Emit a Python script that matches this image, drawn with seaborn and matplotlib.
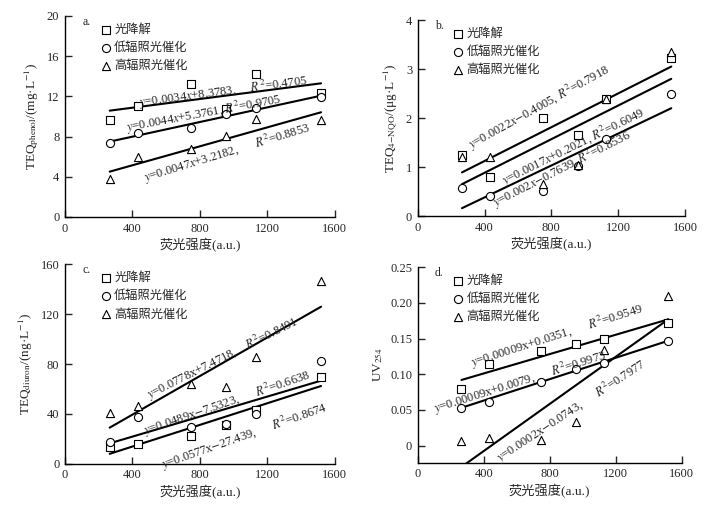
import matplotlib
matplotlib.use("Agg")
import matplotlib.pyplot as plt
import seaborn as sns

# fluorescence intensity of the six samples (shared by all panels)
fluor = [265, 432, 750, 957, 1130, 1518]
series_names = ["光降解", "低辐照光催化", "高辐照光催化"]

# a. TEQ phenol (mg/L)
phenol_photo = [9.65, 11.08, 13.2, 10.75, 14.23, 12.3]
phenol_low = [7.4, 8.39, 8.89, 10.22, 10.88, 11.91]
phenol_high = [3.78, 6.0, 6.77, 8.06, 9.75, 9.65]
phenol_fit = [[10.58, 13.3], [7.5, 12.07], [4.51, 10.42]]
phenol_eq = [
    r"$y$=0.0034$x$+8.3783,     $R^2$=0.4705",
    r"$y$=0.0044$x$+5.3761, $R^2$=0.9705",
    r"$y$=0.0047$x$+3.2182,      $R^2$=0.8853",
]

# b. TEQ 4-NQO (ug/L)
nqo_photo = [1.245, 0.80, 2.01, 1.65, 2.39, 3.22]
nqo_low = [0.565, 0.41, 0.51, 1.03, 1.57, 2.50]
nqo_high = [1.20, 1.21, 0.65, 1.05, 2.39, 3.35]
nqo_fit = [[0.89, 3.05], [0.65, 2.80], [0.16, 2.20]]
nqo_eq = [
    r"$y$=0.0022$x$$-$0.4005, $R^2$=0.7918",
    r"$y$=0.0017$x$+0.2021, $R^2$=0.6049",
    r"$y$=0.002$x$$-$0.7639, $R^2$=0.8536",
]

# c. TEQ diuron (ng/L)
diuron_photo = [13.7, 15.6, 22.5, 31.0, 43.2, 69.4]
diuron_low = [17.7, 37.3, 29.3, 32.0, 39.9, 82.7]
diuron_high = [41.0, 46.4, 63.8, 61.8, 85.4, 146.8]
diuron_fit = [[8.0, 62.4], [16.4, 66.7], [29.0, 126.0]]
diuron_eq = [
    r"$y$=0.0577x$-$27.439,      $R^2$=0.8674",
    r"$y$=0.0489x$-$7.5323,      $R^2$=0.6638",
    r"$y$=0.0778x+7.4718,    $R^2$=0.8491",
]

# d. UV254
uv_photo = [0.079, 0.114, 0.132, 0.1425, 0.1495, 0.1724]
uv_low = [0.053, 0.061, 0.089, 0.1075, 0.116, 0.146]
uv_high = [0.0066, 0.0103, 0.008, 0.0328, 0.134, 0.21]
uv_fit = [[0.092, 0.177], [0.053, 0.147], [-0.030, 0.177]]
uv_eq = [
    r"$y$=0.00009x+0.0351,      $R^2$=0.9549",
    r"$y$=0.00009x+0.0079,      $R^2$=0.9973",
    r"$y$=0.0002x$-$0.0743,      $R^2$=0.7977",
]

fit_x = [fluor[0], fluor[-1]]

sns.set_style("ticks")
plt.rcParams["font.family"] = ["Liberation Serif", "Noto Sans CJK SC"]
plt.rcParams["mathtext.fontset"] = "stix"
plt.rcParams["axes.unicode_minus"] = True

fig = plt.figure(figsize=(7.11, 5.09), dpi=100)

panels = [
    dict(pos=[0.0914, 0.5737, 0.3796, 0.3949], letter="a.",
         data=[phenol_photo, phenol_low, phenol_high], fit=phenol_fit,
         ylim=(0, 20), yticks=[0, 4, 8, 12, 16, 20],
         ylabel=r"TEQ$_{\rm phenol}$/(mg·L$^{-1}$)",
         eq=phenol_eq,
         eq_pos=[(936, 12.44, 7.5), (824, 10.25, 10.5), (960, 6.37, 17.0)]),
    dict(pos=[0.5875, 0.5756, 0.3759, 0.3851], letter="b.",
         data=[nqo_photo, nqo_low, nqo_high], fit=nqo_fit,
         ylim=(0, 4), yticks=[0, 1, 2, 3, 4],
         ylabel=r"TEQ$_{\rm 4{-}NQO}$/(μg·L$^{-1}$)",
         eq=nqo_eq,
         eq_pos=[(728, 2.22, 29.0), (936, 1.40, 26.3), (862, 0.95, 27.0)]),
    dict(pos=[0.0914, 0.0888, 0.3796, 0.3919], letter="c.",
         data=[diuron_photo, diuron_low, diuron_high], fit=diuron_fit,
         ylim=(0, 160), yticks=[0, 40, 80, 120, 160],
         ylabel=r"TEQ$_{\rm diuron}$/(ng·L$^{-1}$)",
         eq=diuron_eq,
         eq_pos=[(1067, 22.3, 19.4), (958, 48.5, 18.8), (938, 84.6, 26.6)]),
    dict(pos=[0.5875, 0.0910, 0.3713, 0.3838], letter="d.",
         data=[uv_photo, uv_low, uv_high], fit=uv_fit,
         ylim=(-0.024, 0.25), yticks=[0, 0.05, 0.10, 0.15, 0.20, 0.25],
         ylabel=r"UV$_{254}$",
         eq=uv_eq,
         eq_pos=[(846, 0.154, 17.7), (620, 0.0888, 17.5), (933, 0.0477, 33.3)]),
]

markers = ["s", "o", "^"]

for p in panels:
    ax = fig.add_axes(p["pos"])
    for vals, name, m in zip(p["data"], series_names, markers):
        sns.scatterplot(x=fluor, y=vals, marker=m, s=34, facecolor="white",
                        edgecolor="black", linewidth=0.8, ax=ax, label=name,
                        zorder=3)
    for ends in p["fit"]:
        sns.lineplot(x=fit_x, y=ends, color="black", linewidth=1.5, ax=ax,
                     legend=False, zorder=2)
    for txt, (tx, ty, rot) in zip(p["eq"], p["eq_pos"]):
        ax.text(tx, ty, txt, rotation=rot, rotation_mode="anchor",
                ha="center", va="center", fontsize=9)

    ax.set_xlim(0, 1600)
    ax.set_ylim(*p["ylim"])
    ax.set_xticks([0, 400, 800, 1200, 1600])
    ax.set_yticks(p["yticks"])
    if p["letter"] == "d.":
        ax.set_yticklabels(["0", "0.05", "0.10", "0.15", "0.20", "0.25"])
    ax.tick_params(direction="in", length=5, width=1, labelsize=9, pad=4)
    sns.despine(ax=ax)
    for s in ["left", "bottom"]:
        ax.spines[s].set_linewidth(1)
        ax.spines[s].set_color("black")
    ax.set_xlabel("荧光强度(a.u.)", fontsize=9.5, labelpad=3)
    ax.set_ylabel(p["ylabel"], fontsize=9.5, labelpad=4)
    ax.text(0.065, 0.97, p["letter"], transform=ax.transAxes, fontsize=8.5,
            ha="left", va="center")
    ax.legend(frameon=False, loc="upper left", bbox_to_anchor=(0.11, 0.99),
              borderaxespad=0, handletextpad=0.2, labelspacing=0.42,
              handlelength=1.0, prop={"family": "Noto Sans CJK SC", "size": 8.8})

fig.savefig("out.png", dpi=100)
